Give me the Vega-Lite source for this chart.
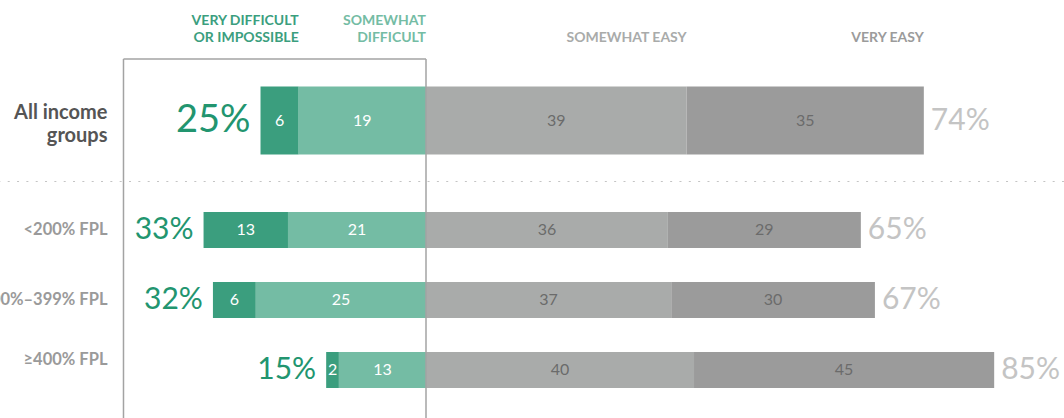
{
"$schema": "https://vega.github.io/schema/vega-lite/v6.json",
"autosize": {"type": "pad"},
"padding": 0,
"bounds": "flush",
"spacing": 0,
"background": "#ffffff",
"config": {"view": {"stroke": null}, "font": "Lato"},
"datasets": {
  "segments": [
    {"group": "All income groups", "response": "Very difficult or impossible", "side": "difficult", "order": 2, "value": 5.7},
    {"group": "All income groups", "response": "Somewhat difficult", "side": "difficult", "order": 1, "value": 19.0},
    {"group": "All income groups", "response": "Somewhat easy", "side": "easy", "order": 1, "value": 38.9},
    {"group": "All income groups", "response": "Very easy", "side": "easy", "order": 2, "value": 35.4},
    {"group": "<200% FPL", "response": "Very difficult or impossible", "side": "difficult", "order": 2, "value": 12.6},
    {"group": "<200% FPL", "response": "Somewhat difficult", "side": "difficult", "order": 1, "value": 20.6},
    {"group": "<200% FPL", "response": "Somewhat easy", "side": "easy", "order": 1, "value": 36.1},
    {"group": "<200% FPL", "response": "Very easy", "side": "easy", "order": 2, "value": 28.8},
    {"group": "200%–399% FPL", "response": "Very difficult or impossible", "side": "difficult", "order": 2, "value": 6.4},
    {"group": "200%–399% FPL", "response": "Somewhat difficult", "side": "difficult", "order": 1, "value": 25.4},
    {"group": "200%–399% FPL", "response": "Somewhat easy", "side": "easy", "order": 1, "value": 36.6},
    {"group": "200%–399% FPL", "response": "Very easy", "side": "easy", "order": 2, "value": 30.4},
    {"group": "≥400% FPL", "response": "Very difficult or impossible", "side": "difficult", "order": 2, "value": 1.9},
    {"group": "≥400% FPL", "response": "Somewhat difficult", "side": "difficult", "order": 1, "value": 13.0},
    {"group": "≥400% FPL", "response": "Somewhat easy", "side": "easy", "order": 1, "value": 40.0},
    {"group": "≥400% FPL", "response": "Very easy", "side": "easy", "order": 2, "value": 44.8}
  ],
  "responses": [
    {"response": "Very difficult or impossible", "header": "VERY DIFFICULT\nOR IMPOSSIBLE"},
    {"response": "Somewhat difficult", "header": "SOMEWHAT\nDIFFICULT"},
    {"response": "Somewhat easy", "header": "SOMEWHAT EASY"},
    {"response": "Very easy", "header": "VERY EASY"}
  ],
  "rows": [
    {"group": "All income groups", "frame_start": -45.15, "frame_end": 0},
    {"group": "<200% FPL", "frame_start": -45.15, "frame_end": 0},
    {"group": "200%–399% FPL", "frame_start": -45.15, "frame_end": 0},
    {"group": "≥400% FPL", "frame_start": -45.15, "frame_end": 0}
  ]
},
"vconcat": [
  {
    "width": 1064, "height": 59,
    "data": {"name": "segments"},
    "transform": [
      {"filter": "datum.group === 'All income groups'"},
      {"calculate": "datum.side === 'difficult' ? -datum.value : datum.value", "as": "signed"},
      {"stack": "signed", "groupby": ["group"], "sort": [{"field": "order", "order": "ascending"}], "as": ["x0", "x1"]},
      {"calculate": "max(datum.x0, datum.x1)", "as": "right"},
      {"lookup": "response", "from": {"data": {"name": "responses"}, "key": "response", "fields": ["header"]}}
    ],
    "layer": [
      {
        "transform": [{"filter": "indexof(datum.header, '\\n') >= 0"}],
        "mark": {"type": "text", "align": "right", "baseline": "alphabetic", "dy": -5, "fontSize": 14, "fontWeight": "bold", "lineBreak": "\n", "lineHeight": 17},
        "encoding": {
          "x": {"field": "right", "type": "quantitative", "scale": {"domain": [-63.58, 95.22], "nice": false, "zero": false}, "axis": null},
          "text": {"field": "header", "type": "nominal"},
          "color": {"field": "response", "type": "nominal", "scale": {"domain": ["Very difficult or impossible", "Somewhat difficult", "Somewhat easy", "Very easy"], "range": ["#3b9e7e", "#74bca4", "#a9abaa", "#9b9b9b"]}, "legend": null}
        }
      },
      {
        "transform": [{"filter": "indexof(datum.header, '\\n') < 0"}],
        "mark": {"type": "text", "align": "right", "baseline": "alphabetic", "dy": 12, "fontSize": 14, "fontWeight": "bold"},
        "encoding": {
          "x": {"field": "right", "type": "quantitative", "scale": {"domain": [-63.58, 95.22], "nice": false, "zero": false}, "axis": null},
          "text": {"field": "header", "type": "nominal"},
          "color": {"field": "response", "type": "nominal", "scale": {"domain": ["Very difficult or impossible", "Somewhat difficult", "Somewhat easy", "Very easy"], "range": ["#3b9e7e", "#74bca4", "#a9abaa", "#9b9b9b"]}, "legend": null}
        }
      }
    ]
  },
  {
    "width": 1064, "height": 123,
    "layer": [
      {
        "data": {"name": "segments"},
        "transform": [
          {"filter": "datum.group === 'All income groups'"},
          {"calculate": "datum.side === 'difficult' ? -datum.value : datum.value", "as": "signed"},
          {"stack": "signed", "groupby": ["group"], "sort": [{"field": "order", "order": "ascending"}], "as": ["x0", "x1"]},
          {"calculate": "(datum.x0 + datum.x1) / 2", "as": "mid"}
        ],
        "layer": [
          {
            "mark": {"type": "bar", "height": 68},
            "encoding": {
              "x": {"field": "x0", "type": "quantitative", "scale": {"domain": [-63.58, 95.22], "nice": false, "zero": false}, "axis": null},
              "x2": {"field": "x1"},
              "y": {"field": "group", "type": "nominal", "sort": null, "scale": {"domain": ["All income groups"], "paddingInner": 0, "paddingOuter": 0}, "axis": null},
              "color": {"field": "response", "type": "nominal", "scale": {"domain": ["Very difficult or impossible", "Somewhat difficult", "Somewhat easy", "Very easy"], "range": ["#3b9e7e", "#74bca4", "#a9abaa", "#9b9b9b"]}, "legend": null}
            }
          },
          {
            "mark": {"type": "text", "fontSize": 16, "baseline": "middle", "align": "center"},
            "encoding": {
              "x": {"field": "mid", "type": "quantitative", "scale": {"domain": [-63.58, 95.22], "nice": false, "zero": false}, "axis": null},
              "y": {"field": "group", "type": "nominal", "sort": null, "scale": {"domain": ["All income groups"], "paddingInner": 0, "paddingOuter": 0}, "axis": null},
              "text": {"field": "value", "type": "quantitative", "format": ".0f"},
              "color": {"condition": {"test": "datum.side === 'difficult'", "value": "#ffffff"}, "value": "#6b6b6b"}
            }
          },
          {
            "transform": [
              {"filter": "datum.side === 'difficult'"},
              {"aggregate": [{"op": "sum", "field": "value", "as": "total"}, {"op": "min", "field": "x1", "as": "end"}], "groupby": ["group"]},
              {"calculate": "format(datum.total, '.0f') + '%'", "as": "label"}
            ],
            "mark": {"type": "text", "align": "right", "baseline": "middle", "dx": -10, "fontSize": 38, "fontWeight": "normal", "color": "#22956f"},
            "encoding": {
              "x": {"field": "end", "type": "quantitative", "scale": {"domain": [-63.58, 95.22], "nice": false, "zero": false}, "axis": null},
              "y": {"field": "group", "type": "nominal", "sort": null, "scale": {"domain": ["All income groups"], "paddingInner": 0, "paddingOuter": 0}, "axis": null},
              "text": {"field": "label", "type": "nominal"}
            }
          },
          {
            "transform": [
              {"filter": "datum.side === 'easy'"},
              {"aggregate": [{"op": "sum", "field": "value", "as": "total"}, {"op": "max", "field": "x1", "as": "end"}], "groupby": ["group"]},
              {"calculate": "format(datum.total, '.0f') + '%'", "as": "label"}
            ],
            "mark": {"type": "text", "align": "left", "baseline": "middle", "dx": 7, "fontSize": 30, "fontWeight": "normal", "color": "#c4c4c4"},
            "encoding": {
              "x": {"field": "end", "type": "quantitative", "scale": {"domain": [-63.58, 95.22], "nice": false, "zero": false}, "axis": null},
              "y": {"field": "group", "type": "nominal", "sort": null, "scale": {"domain": ["All income groups"], "paddingInner": 0, "paddingOuter": 0}, "axis": null},
              "text": {"field": "label", "type": "nominal"}
            }
          }
        ]
      },
      {
        "data": {"name": "rows"},
        "transform": [{"filter": "datum.group === 'All income groups'"}],
        "layer": [
          {
            "mark": {"type": "rule", "color": "#a3a3a3", "strokeWidth": 1.5, "clip": true},
            "encoding": {"x": {"field": "frame_start", "type": "quantitative", "scale": {"domain": [-63.58, 95.22], "nice": false, "zero": false}, "axis": null}}
          },
          {
            "mark": {"type": "rule", "color": "#a3a3a3", "strokeWidth": 1.5, "clip": true},
            "encoding": {"x": {"field": "frame_end", "type": "quantitative", "scale": {"domain": [-63.58, 95.22], "nice": false, "zero": false}, "axis": null}}
          },
          {
            "mark": {"type": "rule", "color": "#a3a3a3", "strokeWidth": 1.5},
            "encoding": {
              "x": {"field": "frame_start", "type": "quantitative", "scale": {"domain": [-63.58, 95.22], "nice": false, "zero": false}, "axis": null},
              "x2": {"field": "frame_end"},
              "y": {"field": "group", "type": "nominal", "bandPosition": 0, "sort": null, "scale": {"domain": ["All income groups"], "paddingInner": 0, "paddingOuter": 0}, "axis": null}
            }
          },
          {
            "mark": {"type": "rule", "color": "#c4c4c4", "strokeWidth": 2, "strokeDash": [2, 7.33], "clip": true},
            "encoding": {
              "y": {"field": "group", "type": "nominal", "bandPosition": 1, "sort": null, "scale": {"domain": ["All income groups"], "paddingInner": 0, "paddingOuter": 0}, "axis": null}
            }
          },
          {
            "transform": [{"calculate": "['All income', 'groups']", "as": "label"}],
            "mark": {"type": "text", "align": "right", "baseline": "middle", "dx": -16, "dy": -8, "fontSize": 20, "fontWeight": "bold", "lineHeight": 23, "color": "#555555", "clip": true},
            "encoding": {
              "x": {"field": "frame_start", "type": "quantitative", "scale": {"domain": [-63.58, 95.22], "nice": false, "zero": false}, "axis": null},
              "y": {"field": "group", "type": "nominal", "sort": null, "scale": {"domain": ["All income groups"], "paddingInner": 0, "paddingOuter": 0}, "axis": null},
              "text": {"field": "label", "type": "nominal"}
            }
          }
        ]
      }
    ]
  },
  {
    "width": 1064, "height": 236,
    "layer": [
      {
        "data": {"name": "segments"},
        "transform": [
          {"filter": "datum.group !== 'All income groups'"},
          {"calculate": "datum.side === 'difficult' ? -datum.value : datum.value", "as": "signed"},
          {"stack": "signed", "groupby": ["group"], "sort": [{"field": "order", "order": "ascending"}], "as": ["x0", "x1"]},
          {"calculate": "(datum.x0 + datum.x1) / 2", "as": "mid"}
        ],
        "layer": [
          {
            "mark": {"type": "bar", "height": 36},
            "encoding": {
              "x": {"field": "x0", "type": "quantitative", "scale": {"domain": [-63.58, 95.22], "nice": false, "zero": false}, "axis": null},
              "x2": {"field": "x1"},
              "y": {"field": "group", "type": "nominal", "sort": null, "scale": {"domain": ["<200% FPL", "200%–399% FPL", "≥400% FPL"], "paddingInner": 0, "paddingOuter": 0.1857}, "axis": null},
              "color": {"field": "response", "type": "nominal", "scale": {"domain": ["Very difficult or impossible", "Somewhat difficult", "Somewhat easy", "Very easy"], "range": ["#3b9e7e", "#74bca4", "#a9abaa", "#9b9b9b"]}, "legend": null}
            }
          },
          {
            "mark": {"type": "text", "fontSize": 16, "baseline": "middle", "align": "center"},
            "encoding": {
              "x": {"field": "mid", "type": "quantitative", "scale": {"domain": [-63.58, 95.22], "nice": false, "zero": false}, "axis": null},
              "y": {"field": "group", "type": "nominal", "sort": null, "scale": {"domain": ["<200% FPL", "200%–399% FPL", "≥400% FPL"], "paddingInner": 0, "paddingOuter": 0.1857}, "axis": null},
              "text": {"field": "value", "type": "quantitative", "format": ".0f"},
              "color": {"condition": {"test": "datum.side === 'difficult'", "value": "#ffffff"}, "value": "#6b6b6b"}
            }
          },
          {
            "transform": [
              {"filter": "datum.side === 'difficult'"},
              {"aggregate": [{"op": "sum", "field": "value", "as": "total"}, {"op": "min", "field": "x1", "as": "end"}], "groupby": ["group"]},
              {"calculate": "format(datum.total, '.0f') + '%'", "as": "label"}
            ],
            "mark": {"type": "text", "align": "right", "baseline": "middle", "dx": -10, "fontSize": 30, "fontWeight": "normal", "color": "#22956f"},
            "encoding": {
              "x": {"field": "end", "type": "quantitative", "scale": {"domain": [-63.58, 95.22], "nice": false, "zero": false}, "axis": null},
              "y": {"field": "group", "type": "nominal", "sort": null, "scale": {"domain": ["<200% FPL", "200%–399% FPL", "≥400% FPL"], "paddingInner": 0, "paddingOuter": 0.1857}, "axis": null},
              "text": {"field": "label", "type": "nominal"}
            }
          },
          {
            "transform": [
              {"filter": "datum.side === 'easy'"},
              {"aggregate": [{"op": "sum", "field": "value", "as": "total"}, {"op": "max", "field": "x1", "as": "end"}], "groupby": ["group"]},
              {"calculate": "format(datum.total, '.0f') + '%'", "as": "label"}
            ],
            "mark": {"type": "text", "align": "left", "baseline": "middle", "dx": 7, "fontSize": 30, "fontWeight": "normal", "color": "#c4c4c4", "clip": true},
            "encoding": {
              "x": {"field": "end", "type": "quantitative", "scale": {"domain": [-63.58, 95.22], "nice": false, "zero": false}, "axis": null},
              "y": {"field": "group", "type": "nominal", "sort": null, "scale": {"domain": ["<200% FPL", "200%–399% FPL", "≥400% FPL"], "paddingInner": 0, "paddingOuter": 0.1857}, "axis": null},
              "text": {"field": "label", "type": "nominal"}
            }
          }
        ]
      },
      {
        "data": {"name": "rows"},
        "transform": [{"filter": "datum.group !== 'All income groups'"}],
        "layer": [
          {
            "transform": [{"filter": "datum.group === '<200% FPL'"}],
            "mark": {"type": "rule", "color": "#a3a3a3", "strokeWidth": 1.5, "clip": true},
            "encoding": {"x": {"field": "frame_start", "type": "quantitative", "scale": {"domain": [-63.58, 95.22], "nice": false, "zero": false}, "axis": null}}
          },
          {
            "transform": [{"filter": "datum.group === '<200% FPL'"}],
            "mark": {"type": "rule", "color": "#a3a3a3", "strokeWidth": 1.5, "clip": true},
            "encoding": {"x": {"field": "frame_end", "type": "quantitative", "scale": {"domain": [-63.58, 95.22], "nice": false, "zero": false}, "axis": null}}
          },
          {
            "transform": [{"filter": "datum.group !== '≥400% FPL'"}],
            "mark": {"type": "text", "align": "right", "baseline": "middle", "dx": -16, "fontSize": 16.5, "fontWeight": "bold", "color": "#9a9a9a", "clip": true},
            "encoding": {
              "x": {"field": "frame_start", "type": "quantitative", "scale": {"domain": [-63.58, 95.22], "nice": false, "zero": false}, "axis": null},
              "y": {"field": "group", "type": "nominal", "sort": null, "scale": {"domain": ["<200% FPL", "200%–399% FPL", "≥400% FPL"], "paddingInner": 0, "paddingOuter": 0.1857}, "axis": null},
              "text": {"field": "group", "type": "nominal"}
            }
          },
          {
            "transform": [{"filter": "datum.group === '≥400% FPL'"}],
            "mark": {"type": "text", "align": "right", "baseline": "middle", "dx": -16, "dy": -10, "fontSize": 16.5, "fontWeight": "bold", "color": "#9a9a9a", "clip": true},
            "encoding": {
              "x": {"field": "frame_start", "type": "quantitative", "scale": {"domain": [-63.58, 95.22], "nice": false, "zero": false}, "axis": null},
              "y": {"field": "group", "type": "nominal", "sort": null, "scale": {"domain": ["<200% FPL", "200%–399% FPL", "≥400% FPL"], "paddingInner": 0, "paddingOuter": 0.1857}, "axis": null},
              "text": {"field": "group", "type": "nominal"}
            }
          }
        ]
      }
    ]
  }
]
}
